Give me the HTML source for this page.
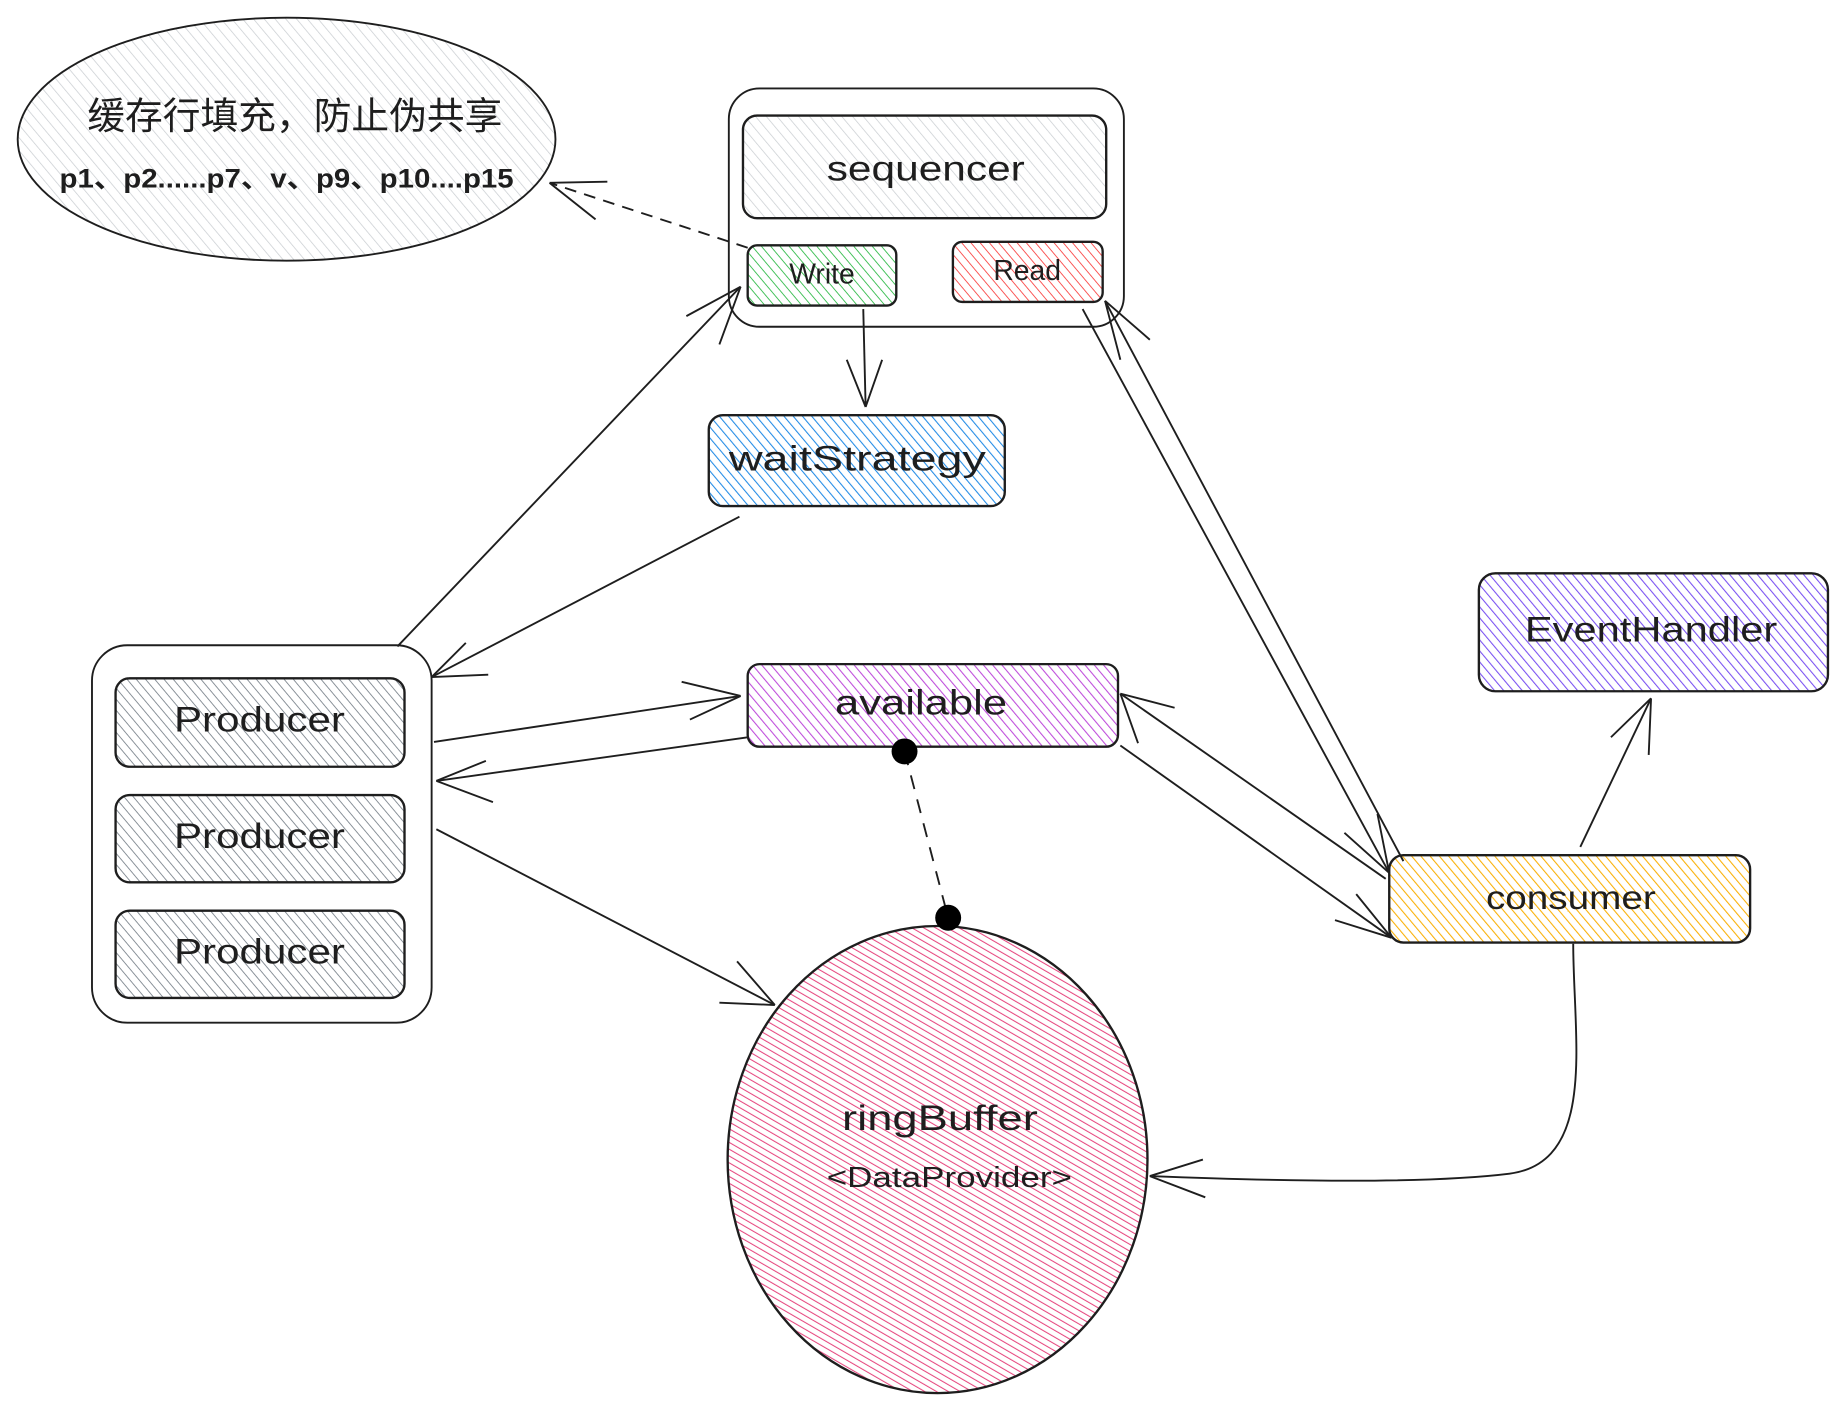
<!DOCTYPE html>
<html><head><meta charset="utf-8"><style>html,body{margin:0;padding:0;background:#fff}svg{display:block}text{font-family:"Liberation Sans","Noto Sans CJK SC",sans-serif;fill:#1e1e1e;text-anchor:middle;dominant-baseline:middle}</style></head><body>
<svg width="1848" height="1412" viewBox="0 0 1567 1197" preserveAspectRatio="none" xmlns="http://www.w3.org/2000/svg">
<defs>
<pattern id="pg" width="7" height="7" patternUnits="userSpaceOnUse" patternTransform="rotate(-40)"><rect width="7" height="7" fill="#fff"/><line x1="0" y1="0" x2="0" y2="7" stroke="#c8ccd0" stroke-width="1.2"/></pattern>
<pattern id="pd" width="6" height="6" patternUnits="userSpaceOnUse" patternTransform="rotate(-40)"><rect width="6" height="6" fill="#fff"/><line x1="0" y1="0" x2="0" y2="6" stroke="#868e96" stroke-width="1.6"/></pattern>
<pattern id="pgr" width="6" height="6" patternUnits="userSpaceOnUse" patternTransform="rotate(-40)"><rect width="6" height="6" fill="#fff"/><line x1="0" y1="0" x2="0" y2="6" stroke="#40c057" stroke-width="1.6"/></pattern>
<pattern id="pr" width="6" height="6" patternUnits="userSpaceOnUse" patternTransform="rotate(-40)"><rect width="6" height="6" fill="#fff"/><line x1="0" y1="0" x2="0" y2="6" stroke="#fa5252" stroke-width="1.6"/></pattern>
<pattern id="pb" width="6" height="6" patternUnits="userSpaceOnUse" patternTransform="rotate(-40)"><rect width="6" height="6" fill="#fff"/><line x1="0" y1="0" x2="0" y2="6" stroke="#228be6" stroke-width="1.8"/></pattern>
<pattern id="pp" width="6" height="6" patternUnits="userSpaceOnUse" patternTransform="rotate(-40)"><rect width="6" height="6" fill="#fff"/><line x1="0" y1="0" x2="0" y2="6" stroke="#be4bdb" stroke-width="1.8"/></pattern>
<pattern id="pv" width="6" height="6" patternUnits="userSpaceOnUse" patternTransform="rotate(-40)"><rect width="6" height="6" fill="#fff"/><line x1="0" y1="0" x2="0" y2="6" stroke="#7950f2" stroke-width="1.8"/></pattern>
<pattern id="py" width="6" height="6" patternUnits="userSpaceOnUse" patternTransform="rotate(-40)"><rect width="6" height="6" fill="#fff"/><line x1="0" y1="0" x2="0" y2="6" stroke="#fab005" stroke-width="1.8"/></pattern>
<pattern id="pk" width="5" height="5" patternUnits="userSpaceOnUse" patternTransform="rotate(-60)"><rect width="5" height="5" fill="#fff"/><line x1="0" y1="0" x2="0" y2="5" stroke="#e64980" stroke-width="1.8"/></pattern>
</defs>
<g stroke="#1e1e1e" stroke-width="2">
<ellipse cx="243" cy="118" rx="228" ry="103" fill="url(#pg)" stroke-width="1.6"/>
<rect x="618" y="75" width="335" height="202" rx="26" fill="#fff" stroke-width="1.6"/>
<rect x="630" y="98" width="308" height="87" rx="12" fill="url(#pg)"/>
<rect x="634" y="208" width="126" height="51" rx="8" fill="url(#pgr)"/>
<rect x="808" y="205" width="127" height="51" rx="8" fill="url(#pr)"/>
<rect x="601" y="352" width="251" height="77" rx="12" fill="url(#pb)"/>
<rect x="78" y="547" width="288" height="320" rx="30" fill="#fff" stroke-width="1.6"/>
<rect x="98" y="575" width="245" height="75" rx="12" fill="url(#pd)"/>
<rect x="98" y="674" width="245" height="74" rx="12" fill="url(#pd)"/>
<rect x="98" y="772" width="245" height="74" rx="12" fill="url(#pd)"/>
<rect x="634" y="563" width="314" height="70" rx="10" fill="url(#pp)"/>
<rect x="1254" y="486" width="296" height="100" rx="14" fill="url(#pv)"/>
<rect x="1178" y="725" width="306" height="74" rx="12" fill="url(#py)"/>
<ellipse cx="795" cy="983" rx="178" ry="198" fill="url(#pk)"/>
</g>
<g stroke="#1e1e1e" stroke-width="1.6" fill="none">
<path d="M634 210 L466 155" stroke-dasharray="10 7"/><path d="M466 155 L515 154 M466 155 L505 186"/>
<path d="M732 262 L734 345"/><path d="M734 345 L718 305 M734 345 L748 305"/>
<path d="M337 548 L628 243"/><path d="M628 243 L582 268 M628 243 L610 292"/>
<path d="M627 438 L366 574"/><path d="M366 574 L395 545 M366 574 L414 572"/>
<path d="M368 629 L628 590"/><path d="M628 590 L578 578 M628 590 L585 610"/>
<path d="M634 625 L370 662"/><path d="M370 662 L418 680 M370 662 L412 645"/>
<path d="M370 703 L657 852"/><path d="M657 852 L610 850 M657 852 L625 815"/>
<path d="M918 262 L1178 740"/><path d="M1178 740 L1140 706 M1178 740 L1168 690"/>
<path d="M1190 730 L937 255"/><path d="M937 255 L950 305 M937 255 L975 288"/>
<path d="M950 632 L1180 795"/><path d="M1180 795 L1132 780 M1180 795 L1150 758"/>
<path d="M1175 745 L950 588"/><path d="M950 588 L996 600 M950 588 L965 630"/>
<path d="M1340 718 L1400 592"/><path d="M1400 592 L1366 625 M1400 592 L1398 640"/>
<path d="M1334 800 C1334 880 1355 985 1280 995 C1200 1005 1050 1000 975 997"/><path d="M975 997 L1020 983 M975 997 L1022 1015"/>
<path d="M767 637 L804 778" stroke-dasharray="12 9"/>
</g>
<circle cx="767" cy="637" r="11" fill="#000"/><circle cx="804" cy="778" r="11" fill="#000"/>
<text x="250" y="101" font-size="32">缓存行填充，防止伪共享</text>
<text x="243" y="153" font-size="23" font-weight="bold" textLength="385" lengthAdjust="spacingAndGlyphs">p1、p2......p7、v、p9、p10....p15</text>
<text x="785" y="145" font-size="30" textLength="168" lengthAdjust="spacingAndGlyphs">sequencer</text>
<text x="697" y="234" font-size="24">Write</text>
<text x="871" y="231" font-size="24">Read</text>
<text x="727" y="391" font-size="30" textLength="218" lengthAdjust="spacingAndGlyphs">waitStrategy</text>
<text x="220" y="612" font-size="30" textLength="145" lengthAdjust="spacingAndGlyphs">Producer</text>
<text x="220" y="711" font-size="30" textLength="145" lengthAdjust="spacingAndGlyphs">Producer</text>
<text x="220" y="809" font-size="30" textLength="145" lengthAdjust="spacingAndGlyphs">Producer</text>
<text x="781" y="598" font-size="30" textLength="146" lengthAdjust="spacingAndGlyphs">available</text>
<text x="1400" y="536" font-size="30" textLength="214" lengthAdjust="spacingAndGlyphs">EventHandler</text>
<text x="1332" y="763" font-size="28" textLength="144" lengthAdjust="spacingAndGlyphs">consumer</text>
<text x="797" y="950" font-size="30" textLength="166" lengthAdjust="spacingAndGlyphs">ringBuffer</text>
<text x="805" y="1000" font-size="24" textLength="208" lengthAdjust="spacingAndGlyphs">&lt;DataProvider&gt;</text>
</svg>
</body></html>
